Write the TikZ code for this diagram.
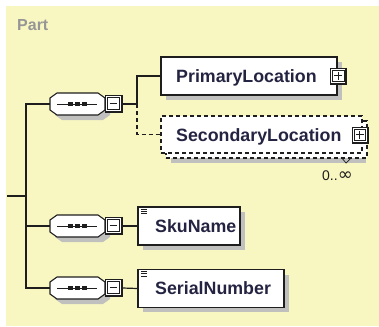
\documentclass[tikz,border=0pt]{standalone}
\usepackage{fontspec}
\setmainfont{Liberation Sans}
\newfontfamily\symfont{DejaVu Sans}
\usetikzlibrary{shadows}
\definecolor{bg}{RGB}{249,247,193}
\definecolor{shad}{RGB}{192,192,190}
\definecolor{ink}{RGB}{30,30,30}
\definecolor{txt}{RGB}{36,36,66}
\definecolor{partc}{RGB}{150,150,150}
\tikzset{
  conn/.style={draw=ink, line width=1.2pt},
  dconn/.style={conn, dash pattern=on 4pt off 3pt},
  elembox/.style={draw=ink, fill=white, line width=1.1pt, inner sep=0pt,
    drop shadow={fill=shad, opacity=1, shadow xshift=5pt, shadow yshift=-5pt}},
  optbox/.style={draw=ink, fill=white, line width=1.1pt, inner sep=0pt,
    dash pattern=on 4pt off 3pt},
  elemtext/.style={font=\bfseries\fontsize{17.8}{20}\selectfont, text=txt, inner sep=0pt, anchor=base west},
  seqnode/.style={inner sep=0pt, minimum width=55pt, minimum height=22pt},
  octo/.style={draw=ink, fill=white, line width=1.1pt},
  ctrlbox/.style={draw=ink, fill=white, line width=0.9pt, inner sep=0pt, minimum size=17pt},
  ctrlinner/.style={draw=ink, line width=0.9pt},
  ctrlthick/.style={draw=ink, line width=2.2pt},
  signline/.style={draw=ink, line width=1.2pt},
}
\newcommand{\ctrlframe}[1]{%
  \draw[ctrlthick] ([xshift=-0.6pt]#1.north east) -- ([shift={(-0.6pt,0.6pt)}]#1.south east) -- ([yshift=0.6pt]#1.south west);
  \draw[ctrlinner] ([shift={(2.5pt,-2.5pt)}]#1.north west) rectangle ([shift={(-3pt,3.2pt)}]#1.south east);
}
\newcommand{\seqicon}[2]{%
  \begin{scope}[shift={(77.5,-#2)}]
    \fill[shad, xshift=5pt, yshift=-5pt] (-27.5,-6) -- (-27.5,6) -- (-20.5,11) -- (20.5,11) -- (27.5,6) -- (27.5,-6) -- (20.5,-11) -- (-20.5,-11) -- cycle;
    \node[seqnode] (#1) at (0,0) {};
    \draw[octo] (-27.5,-6) -- (-27.5,6) -- (-20.5,11) -- (20.5,11) -- (27.5,6) -- (27.5,-6) -- (20.5,-11) -- (-20.5,-11) -- cycle;
    \draw[ink, line width=1pt] (-20.5,0) -- (19.5,0);
    \foreach \dx in {-7,0,7} \fill[ink] (\dx-2.4,-2.4) rectangle (\dx+2.4,2.4);
    \node[ctrlbox] (#1m) at (36,0) {};
    \ctrlframe{#1m}
    \draw[signline] (32,0.3) -- (39.5,0.3);
  \end{scope}
}
\newcommand{\plusbox}[3]{%
  \node[ctrlbox, minimum size=16pt] (#1) at (#2,-#3) {};
  \ctrlframe{#1}
  \draw[signline] ([shift={(-4.3pt,0.3pt)}]#1.center) -- ([shift={(3.8pt,0.3pt)}]#1.center)
     ([shift={(-0.3pt,-3.8pt)}]#1.center) -- ([shift={(-0.3pt,4.3pt)}]#1.center);
}
\newcommand{\simpleicon}[2]{%
  \draw[ink, line width=0.8pt] (#1,-#2) -- +(5.5,0) (#1,-#2-2.3) -- +(5.5,0) (#1,-#2-4.6) -- +(5.5,0);
}
\begin{document}
\begin{tikzpicture}[x=1pt, y=1pt]
  \useasboundingbox (0,0) rectangle (379,-326);
  \fill[white] (0,0) rectangle (379,-326);
  \fill[bg] (6,-6) rectangle (379,-326);
  \node[font=\bfseries\fontsize{16}{18}\selectfont, text=partc, inner sep=0pt, anchor=base west] (title) at (17,-31) {Part};

  % sequence compositors
  \seqicon{s1}{104}
  \seqicon{s2}{226}
  \seqicon{s3}{288}

  % elements
  \node[elembox, minimum width=176pt, minimum height=38pt] (pl) at (249,-76) {};
  \node[elemtext] (plt) at (176,-82.5) {PrimaryLocation};
  \plusbox{plp}{338.5}{76}

  \fill[shad] (171,-126) rectangle (366,-163);
  \node[optbox, minimum width=201pt, minimum height=37pt] (slb) at (266.5,-139.5) {};
  \node[optbox, minimum width=201pt, minimum height=37pt] (sl) at (261.5,-134.5) {};
  \node[elemtext] (slt) at (176,-141) {SecondaryLocation};
  \plusbox{slp}{360}{135}
  \draw[ink, line width=0.7pt] (341,-157) -- (346,-163) -- (350,-159);
  \node[font=\fontsize{14}{16}\selectfont, text=ink, inner sep=0pt, anchor=base west] (card) at (322,-180) {0..{\symfont\fontsize{18}{16}\selectfont ∞}};

  \node[elembox, minimum width=102pt, minimum height=38pt] (sku) at (189,-226) {};
  \simpleicon{141}{209}
  \node[elemtext] (skut) at (155,-232.5) {SkuName};

  \node[elembox, minimum width=146pt, minimum height=37.5pt] (ser) at (211,-288.5) {};
  \simpleicon{141}{271.5}
  \node[elemtext] (sert) at (155,-294.5) {SerialNumber};

  % connectors
  \coordinate (stub) at (7,-196);
  \coordinate (trunk) at (26,-196);
  \coordinate (j1) at (137,-104);
  \draw[conn] (stub) -- (trunk);
  \draw[conn] (s1.west) -- (s1.west -| trunk) -- (s3.west -| trunk) -- (s3.west);
  \draw[conn] (s2.west) -- (s2.west -| trunk);
  \draw[conn] (s1m.east) -- (j1);
  \draw[conn] (j1) |- (pl.west);
  \draw[dconn] (j1) |- (sl.west);
  \draw[conn] (s2m.east) -- (sku.west);
  \draw[conn] (s3m.east) -- (ser.west);
\end{tikzpicture}
\end{document}
